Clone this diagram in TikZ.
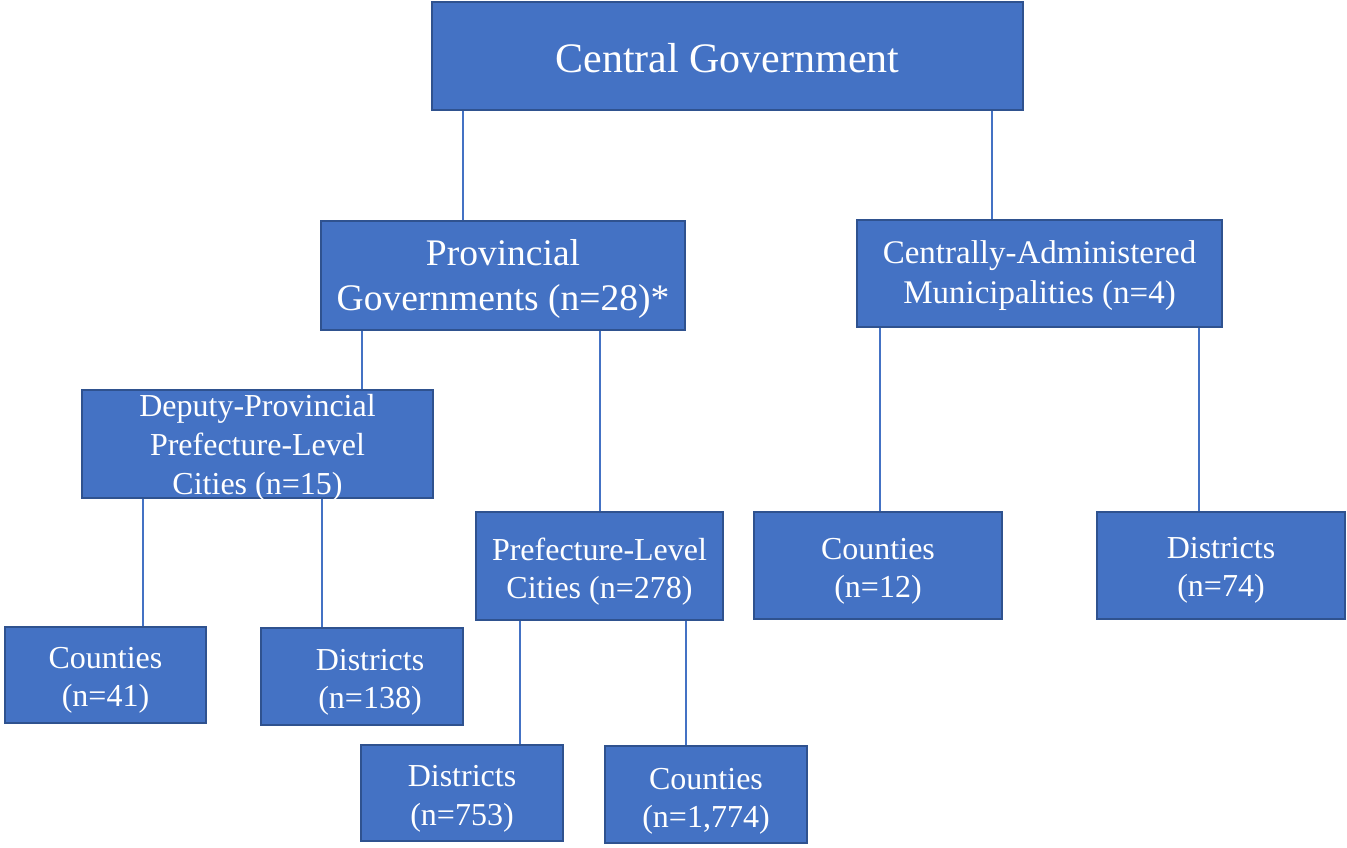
\documentclass[tikz,border=0pt]{standalone}
\usepackage{fontspec}
\setmainfont{Liberation Serif}
\definecolor{boxfill}{HTML}{4472C4}
\definecolor{boxline}{HTML}{2F528F}
\begin{document}
\begin{tikzpicture}[x=1pt,y=-1pt,
  orgbox/.style={draw=boxline, line width=1.5pt, fill=boxfill, inner sep=0pt, rectangle},
  btext/.style={text=white, align=center, inner sep=0pt},
  f32/.style={font=\fontsize{32}{38.5}\selectfont},
  link/.style={draw=boxfill, line width=2.8pt}]
\useasboundingbox (0,0) rectangle (1347,847);
% boxes
\node[orgbox, minimum width=591pt, minimum height=108pt] (central) at (727.5,56) {};
\node[orgbox, minimum width=364pt, minimum height=109pt] (prov) at (503,275.5) {};
\node[orgbox, minimum width=365pt, minimum height=107pt] (cam) at (1039.5,273.5) {};
\node[orgbox, minimum width=351pt, minimum height=108pt] (dep) at (257.5,444) {};
\node[orgbox, minimum width=247pt, minimum height=108pt] (pref) at (599.5,566) {};
\node[orgbox, minimum width=248pt, minimum height=107pt] (cty12) at (878,565.5) {};
\node[orgbox, minimum width=248pt, minimum height=107pt] (dis74) at (1221,565.5) {};
\node[orgbox, minimum width=201pt, minimum height=96pt] (cty41) at (105.5,675) {};
\node[orgbox, minimum width=202pt, minimum height=97pt] (dis138) at (362,676.5) {};
\node[orgbox, minimum width=202pt, minimum height=96pt] (dis753) at (462,793) {};
\node[orgbox, minimum width=202pt, minimum height=97pt] (cty1774) at (706,794.5) {};
% texts
\node[btext, font=\fontsize{42}{48}\selectfont] (centralt) at ([yshift=-2pt]central.center) {Central Government};
\node[btext, font=\fontsize{37.5}{45}\selectfont] (provt) at ([yshift=-3pt]prov.center) {Provincial\\Governments (n=28)*};
\node[btext, font=\fontsize{33}{40}\selectfont] (camt) at ([yshift=-2pt]cam.center) {Centrally-Administered\\Municipalities (n=4)};
\node[btext, font=\fontsize{32}{39}\selectfont] (dept) at ([yshift=-3.5pt]dep.center) {Deputy-Provincial\\Prefecture-Level\\Cities (n=15)};
\node[btext, f32] (preft) at ([yshift=-5.5pt]pref.center) {Prefecture-Level\\Cities (n=278)};
\node[btext, f32] (cty12t) at ([yshift=-6pt]cty12.center) {Counties\\(n=12)};
\node[btext, f32] (dis74t) at ([yshift=-5pt]dis74.center) {Districts\\(n=74)};
\node[btext, f32] (cty41t) at ([yshift=-5.5pt]cty41.center) {Counties\\(n=41)};
\node[btext, f32] (dis138t) at ([xshift=8pt,yshift=-6pt]dis138.center) {Districts\\(n=138)};
\node[btext, f32] (dis753t) at ([yshift=-6pt]dis753.center) {Districts\\(n=753)};
\node[btext, f32] (cty1774t) at ([yshift=-7pt]cty1774.center) {Counties\\(n=1,774)};
% connectors
\draw[link] (central.south -| 463,0) -- (prov.north -| 463,0);
\draw[link] (central.south -| 992,0) -- (cam.north -| 992,0);
\draw[link] (prov.south -| 362,0) -- (dep.north -| 362,0);
\draw[link] (prov.south -| 600,0) -- (pref.north -| 600,0);
\draw[link] (dep.south -| 143,0) -- (cty41.north -| 143,0);
\draw[link] (dep.south -| 322,0) -- (dis138.north -| 322,0);
\draw[link] (pref.south -| 520,0) -- (dis753.north -| 520,0);
\draw[link] (pref.south -| 686,0) -- (cty1774.north -| 686,0);
\draw[link] (cam.south -| 880,0) -- (cty12.north -| 880,0);
\draw[link] (cam.south -| 1199,0) -- (dis74.north -| 1199,0);
\end{tikzpicture}
\end{document}
